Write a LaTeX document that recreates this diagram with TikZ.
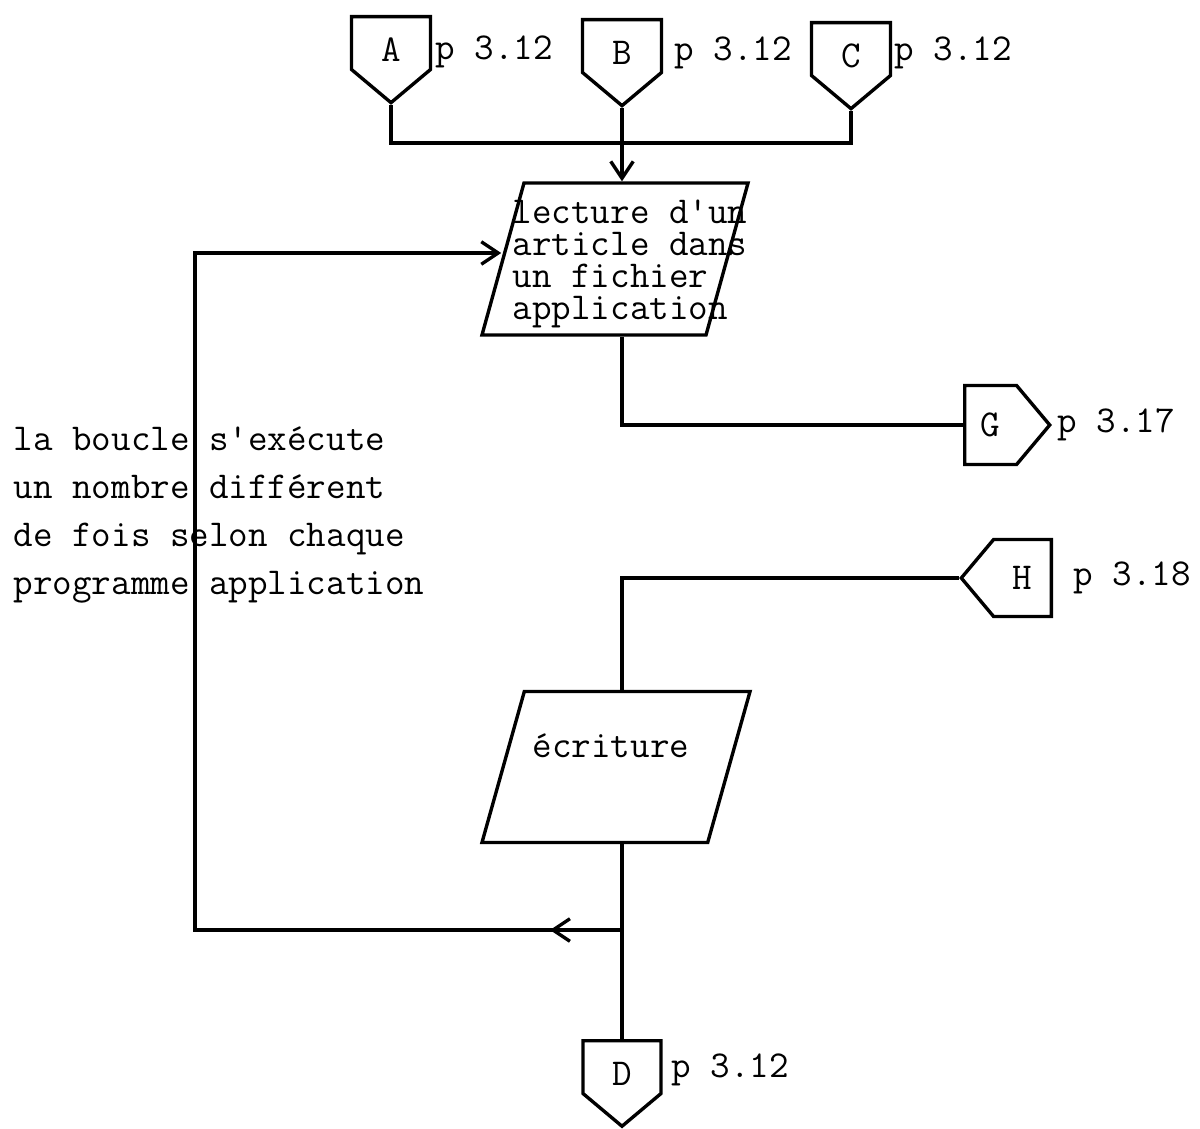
\documentclass[tikz,border=0pt]{standalone}
\usepackage{fontspec}
\usetikzlibrary{arrows.meta,positioning,shapes.geometric,shapes.symbols}

\begin{document}
\begin{tikzpicture}[
  x=0.025cm, y=-0.025cm,
  line width=2.4pt,
  font=\ttfamily\fontsize{27}{22.8}\selectfont,
  offpage/.style={draw, signal, signal pointer angle=100, minimum width=1.975cm,
    minimum height=1.525cm, inner sep=0pt},
  down/.style={signal to=south, anchor=north, text height=0.925cm, text depth=0pt},
  io/.style={draw, trapezium, trapezium left angle=77, trapezium right angle=103,
    trapezium stretches, minimum width=6.65cm, minimum height=3.8cm, inner sep=4pt},
  lbl/.style={anchor=west, inner sep=0pt},
  note/.style={anchor=west, align=left, inner sep=0pt,
    font=\ttfamily\fontsize{27}{34.3}\selectfont},
  arr/.style={-{Straight Barb[length=12pt, width=16pt]}}
]
\useasboundingbox (0,0) rectangle (1200,1128);
% off-page connectors
\node[offpage, down] (A) at (391,15) {A};
\node[offpage, down] (B) at (622,18) {B};
\node[offpage, down] (C) at (851,21) {C};
\node[lbl] (Aref) at (434,52) {p 3.12};
\node[lbl] (Bref) at (673,53) {p 3.12};
\node[lbl] (Cref) at (893,53) {p 3.12};
\node[offpage, signal to=east, minimum width=2.125cm, minimum height=1.975cm,
  anchor=west] (G) at (963,425) {G};
\node[lbl, right=0.1cm of G] (Gref) {p 3.17};
\node[offpage, signal to=west, minimum width=2.25cm, minimum height=1.925cm,
  anchor=east] (H) at (1053,578) {H};
\node[lbl] (Href) at (1072,578) {p 3.18};
\node[offpage, down, minimum width=1.95cm] (D) at (622,1039) {D};
\node[lbl] (Dref) at (670,1070) {p 3.12};

% read / write
\node[io] (read) at (615,259) {};
\node[lbl, align=left] (readtxt) at (511,264) {lecture d'un\\article dans\\un fichier\\application};
\node[io, minimum width=6.7cm, minimum height=3.775cm] (write) at (616,767) {};
\node[lbl] (writetxt) at (531,746) {écriture};

\node[note] (loopnote) at (12,515) {la boucle s'exécute\\un nombre différent\\de fois selon chaque\\programme application};

\coordinate (bus) at (622,143);
\coordinate (jn) at (622,930);
\coordinate (back) at (195,253);

\draw (A.south) |- (bus) -| (C.south);
\draw[arr] (B.south) -- (B.south |- read.north);
\draw (B.south |- read.south) |- (G.west);
\draw (H.west) -| (B.south |- write.north);
\draw (B.south |- write.south) -- (D.north);
\draw[arr] (jn) -| (back) -- (back -| read.west);
\draw[arr] (jn) -- ++(-72,0);
\end{tikzpicture}
\end{document}
